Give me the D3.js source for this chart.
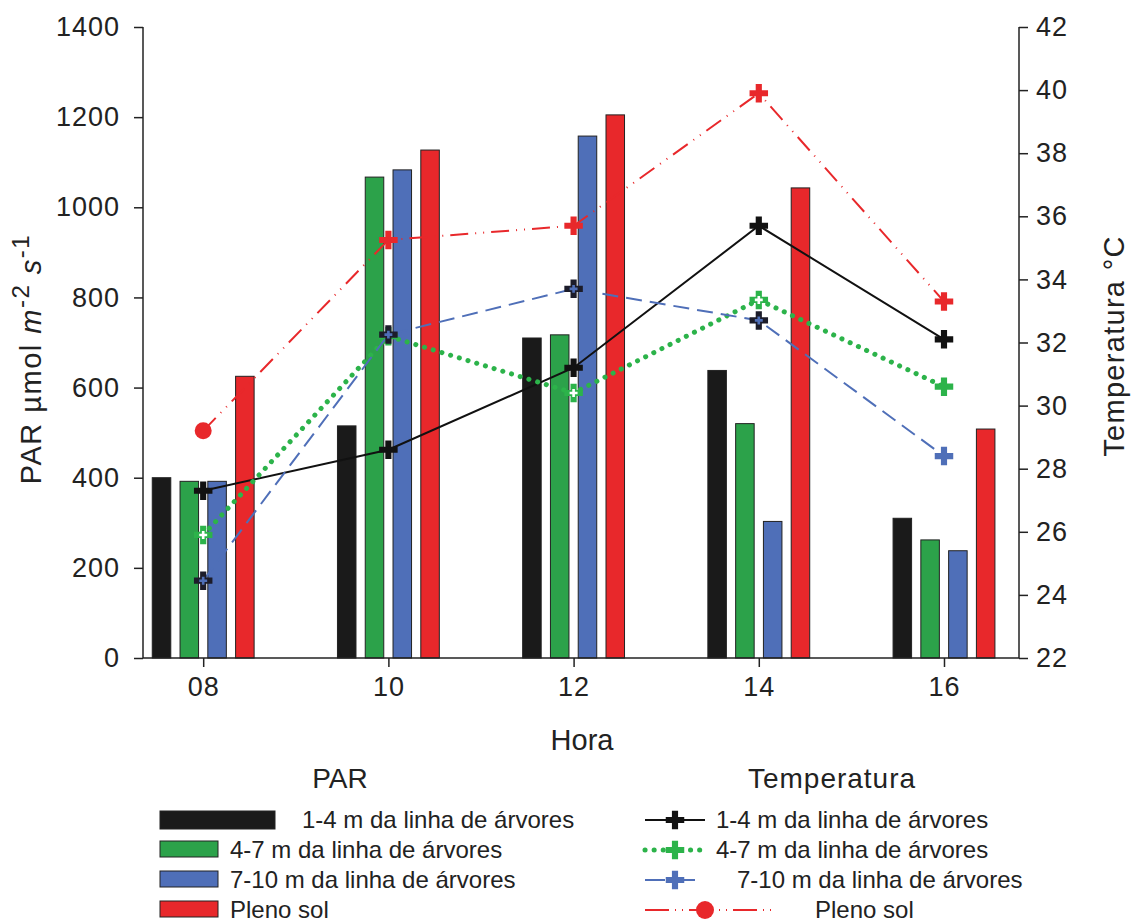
<!DOCTYPE html>
<html><head><meta charset="utf-8">
<script src="https://cdn.jsdelivr.net/npm/d3@7"></script>
<style>body{margin:0;background:#fff}svg{font-family:"Liberation Sans",Arial,sans-serif}</style>
</head><body><svg id="c" width="1135" height="924"></svg>
<script>
const hours = [8, 10, 12, 14, 16];
const hourLabels = ["08", "10", "12", "14", "16"];
const parNames = ["1-4 m da linha de árvores", "4-7 m da linha de árvores", "7-10 m da linha de árvores", "Pleno sol"];
const par14 = [400, 515, 710, 638, 310];
const par47 = [392, 1067, 717, 520, 262];
const par710 = [392, 1083, 1158, 303, 238];
const parSol = [625, 1127, 1205, 1043, 508];
const temp14 = [27.3, 28.6, 31.2, 35.7, 32.1];
const temp47 = [25.9, 32.2, 30.4, 33.35, 30.6];
const temp710 = [24.45, 32.25, 33.7, 32.7, 28.4];
const tempSol = [29.2, 35.25, 35.7, 39.9, 33.3];
const leftTicks = [0, 200, 400, 600, 800, 1000, 1200, 1400];
const rightTicks = [22, 24, 26, 28, 30, 32, 34, 36, 38, 40, 42];
const colors = ["#1a1a1a", "#2ca24a", "#4f6fb8", "#e8282b"];

const svg = d3.select("#c");
const x = d3.scaleLinear().domain([7.35, 16.81]).range([143, 1019]);
const yL = d3.scaleLinear().domain([0, 1400]).range([658, 27]);
const yR = d3.scaleLinear().domain([22, 42]).range([658, 27]);

// bars
const parSeries = [par14, par47, par710, parSol];
const offsets = [-0.45, -0.15, 0.15, 0.45];
const bw = x(0.2) - x(0);
parSeries.forEach((vals, s) => {
  svg.append("g").selectAll("rect").data(vals).join("rect")
    .attr("x", (d, i) => x(hours[i] + offsets[s]) - bw / 2)
    .attr("y", d => yL(d))
    .attr("width", bw)
    .attr("height", d => yL(0) - yL(d))
    .attr("fill", colors[s])
    .attr("stroke", "#222").attr("stroke-width", 1);
});

// lines
const tempSeries = [temp14, temp47, temp710, tempSol];
const dashes = [null, "0.1 9", "16 8", "18 7 1 7 1 7"];
const widths = [2, 5, 2, 2];
const lineColors = ["#111", "#2cb34a", "#4f6fb8", "#e8282b"];
tempSeries.forEach((vals, s) => {
  const line = d3.line().x((d, i) => x(hours[i])).y(d => yR(d));
  svg.append("path").datum(vals).attr("d", line)
    .attr("fill", "none").attr("stroke", lineColors[s])
    .attr("stroke-width", widths[s])
    .attr("stroke-dasharray", dashes[s])
    .attr("stroke-linecap", s === 1 ? "round" : "butt");
});

const cross = d3.symbol().type(d3.symbolCross).size(190);
const smallCross = d3.symbol().type(d3.symbolCross).size(35);
function markers(vals, s) {
  const g = svg.append("g");
  vals.forEach((v, i) => {
    const cx = x(hours[i]), cy = yR(v);
    if (s === 3 && i === 0) {
      g.append("circle").attr("cx", cx).attr("cy", cy).attr("r", 8.5).attr("fill", "#e8282b");
      return;
    }
    let fill = lineColors[s];
    if (s === 2 && i < 4) fill = "#1c1c2a";
    g.append("path").attr("d", cross).attr("transform", `translate(${cx},${cy})`).attr("fill", fill);
    if (s === 1 && i < 4) g.append("path").attr("d", smallCross).attr("transform", `translate(${cx},${cy})`).attr("fill", "#fff");
    if (s === 2 && i < 4) g.append("path").attr("d", smallCross).attr("transform", `translate(${cx},${cy})`).attr("fill", "#4f6fb8");
  });
}
markers(temp47, 1);
markers(temp710, 2);
markers(temp14, 0);
markers(tempSol, 3);

// axes
const fs = "27px";
const axL = svg.append("g").attr("transform", "translate(143,0)")
  .call(d3.axisLeft(yL).tickValues(leftTicks).tickSize(9).tickPadding(14).tickFormat(d3.format("d")));
const axR = svg.append("g").attr("transform", "translate(1019,0)")
  .call(d3.axisRight(yR).tickValues(rightTicks).tickSize(9).tickPadding(8));
const axB = svg.append("g").attr("transform", "translate(0,658)")
  .call(d3.axisBottom(x).tickValues(hours).tickSize(9).tickPadding(10).tickFormat((d, i) => hourLabels[i]));
[axL, axR, axB].forEach(a => {
  a.select(".domain").attr("stroke", "#222").attr("stroke-width", 1.5);
  a.selectAll(".tick line").attr("stroke", "#222").attr("stroke-width", 1.5);
  a.selectAll("text").attr("font-size", fs).attr("fill", "#222")
    .attr("font-family", "Liberation Sans, Arial, sans-serif").attr("letter-spacing", "1px");
});
axL.select(".domain").attr("d", "M0,658V27");
axR.select(".domain").attr("d", "M0,658V27");
axB.select(".domain").attr("d", "M143,0H1019");

// axis titles
svg.append("text").attr("x", 582).attr("y", 750).attr("text-anchor", "middle")
  .attr("font-size", "29px").attr("fill", "#222").text("Hora");
const yl = svg.append("text").attr("transform", "translate(41,359) rotate(-90)")
  .attr("text-anchor", "middle").attr("font-size", "29px").attr("fill", "#222").attr("letter-spacing", "1.5px");
yl.append("tspan").text("PAR µmol ");
yl.append("tspan").attr("font-style", "italic").text("m");
yl.append("tspan").attr("dy", -12).attr("font-size", "24px").text("-2");
yl.append("tspan").attr("dy", 12).text(" ");
yl.append("tspan").attr("font-style", "italic").text("s");
yl.append("tspan").attr("dy", -12).attr("font-size", "24px").text("-1");
svg.append("text").attr("transform", "translate(1124,346) rotate(-90)")
  .attr("text-anchor", "middle").attr("font-size", "29px").attr("fill", "#222").attr("letter-spacing", "1.3px").text("Temperatura °C");

// legend PAR
svg.append("text").attr("x", 340).attr("y", 788).attr("text-anchor", "middle")
  .attr("font-size", "28px").attr("fill", "#222").text("PAR");
const legY = [820, 850, 880, 910];
parNames.forEach((n, s) => {
  const w = s === 0 ? 115 : 58;
  svg.append("rect").attr("x", 160).attr("y", legY[s] - 9).attr("width", w).attr("height", s === 0 ? 18 : 16)
    .attr("fill", colors[s]).attr("stroke", "#222").attr("stroke-width", 1);
  svg.append("text").attr("x", s === 0 ? 302 : 230).attr("y", legY[s] + 8)
    .attr("font-size", "24px").attr("fill", "#222").text(n);
});

// legend Temperatura
svg.append("text").attr("x", 832).attr("y", 788).attr("text-anchor", "middle")
  .attr("font-size", "28px").attr("fill", "#222").attr("letter-spacing", "1px").text("Temperatura");
const tx = [716, 716, 737, 815];
parNames.forEach((n, s) => {
  const x0 = 645, x1 = s === 3 ? 775 : 705;
  const mx = s === 3 ? 705 : 675;
  svg.append("line").attr("x1", x0).attr("x2", x1).attr("y1", legY[s]).attr("y2", legY[s])
    .attr("stroke", lineColors[s]).attr("stroke-width", widths[s])
    .attr("stroke-dasharray", s === 1 ? "0.1 9" : s === 2 ? "20 10" : s === 3 ? "24 6 1 6 1 6" : null)
    .attr("stroke-linecap", s === 1 ? "round" : "butt");
  if (s === 3) svg.append("circle").attr("cx", mx).attr("cy", legY[s]).attr("r", 9).attr("fill", "#e8282b");
  else svg.append("path").attr("d", cross).attr("transform", `translate(${mx},${legY[s]})`).attr("fill", lineColors[s]);
  svg.append("text").attr("x", tx[s]).attr("y", legY[s] + 8)
    .attr("font-size", "24px").attr("fill", "#222").text(n);
});
</script></body></html>
